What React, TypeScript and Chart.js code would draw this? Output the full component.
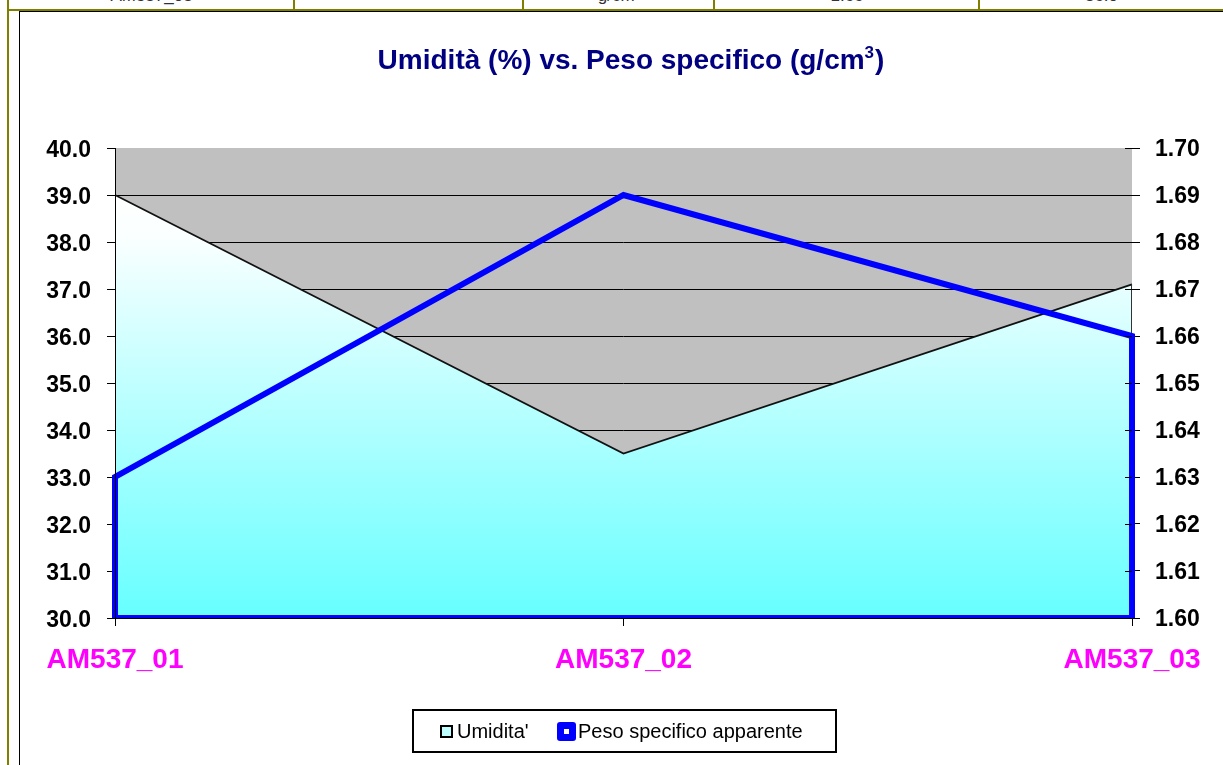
import React, { useEffect, useRef } from "react";
import { Chart, registerables } from "chart.js";

Chart.register(...registerables);

// ---- data ----
const categories = ["AM537_01", "AM537_02", "AM537_03"];
const umiditaValues = [39.0, 33.5, 37.1];
const pesoValues = [1.63, 1.69, 1.66];
const umiditaAxis = { min: 30, max: 40, step: 1, decimals: 1 };
const pesoAxis = { min: 1.6, max: 1.7, step: 0.01, decimals: 2 };
const titleMain = "Umidità (%) vs. Peso specifico (g/cm";
const titleSup = "3";
const titleEnd = ")";
const seriesNames = ["Umidita'", "Peso specifico apparente"];
const tableCells = ["AM537_03", "", "g/cm³", "1.66", "36.0"];

const FONT = '"Liberation Sans", Arial, Helvetica, sans-serif';
const OLIVE = "#808000";

// closed outline of the "Peso" area series, built from the values
const pesoOutline = [
  { x: categories[0], y: pesoAxis.min },
  ...pesoValues.map((v, i) => ({ x: categories[i], y: v })),
  { x: categories[categories.length - 1], y: pesoAxis.min },
  { x: categories[0], y: pesoAxis.min },
];

const decorPlugin = {
  id: "decor",
  beforeDraw(chart: any) {
    const { ctx, chartArea: a } = chart;
    ctx.save();
    ctx.fillStyle = "#C0C0C0";
    ctx.fillRect(a.left, a.top, a.right - a.left, a.bottom - a.top);
    ctx.restore();
  },
  afterDatasetDraw(chart: any, args: any) {
    if (args.index !== 0) return;
    const { ctx, chartArea: a, scales } = chart;
    const last = umiditaValues.length - 1;
    const xr = Math.round(scales.x.getPixelForValue(last)) - 0.5;
    ctx.save();
    ctx.strokeStyle = "#333333";
    ctx.lineWidth = 1;
    ctx.beginPath();
    ctx.moveTo(xr, scales.y.getPixelForValue(umiditaValues[last]));
    ctx.lineTo(xr, a.bottom);
    ctx.stroke();
    ctx.restore();
  },
  afterDatasetsDraw(chart: any) {
    const { ctx, chartArea: a, scales } = chart;
    ctx.save();
    ctx.strokeStyle = "#000";
    ctx.lineWidth = 1;
    const l = Math.round(a.left) + 0.5;
    const b = Math.round(a.bottom) + 0.5;
    ctx.beginPath();
    ctx.moveTo(l, a.top);
    ctx.lineTo(l, b);
    ctx.lineTo(a.right, b);
    ctx.stroke();
    // right-axis tick marks crossing into the plot
    const y1 = scales.y1;
    ctx.beginPath();
    for (const t of y1.ticks) {
      const py = Math.round(y1.getPixelForValue(t.value)) + 0.5;
      ctx.moveTo(a.right - 7, py);
      ctx.lineTo(a.right, py);
    }
    ctx.stroke();
    ctx.restore();
  },
  afterDraw(chart: any) {
    const { ctx } = chart;
    ctx.save();
    // title
    const mainFont = `bold 28px ${FONT}`;
    const supFont = `bold 17px ${FONT}`;
    ctx.font = mainFont;
    const w1 = ctx.measureText(titleMain).width;
    const w3 = ctx.measureText(titleEnd).width;
    ctx.font = supFont;
    const w2 = ctx.measureText(titleSup).width;
    const total = w1 + w2 + 1 + w3;
    let tx = 611 - total / 2;
    const ty = 57;
    ctx.fillStyle = "#000080";
    ctx.textBaseline = "alphabetic";
    ctx.textAlign = "left";
    ctx.font = mainFont;
    ctx.fillText(titleMain, tx, ty);
    tx += w1;
    ctx.font = supFont;
    ctx.fillText(titleSup, tx, ty - 11);
    tx += w2 + 1;
    ctx.font = mainFont;
    ctx.fillText(titleEnd, tx, ty);

    // legend
    ctx.fillStyle = "#fff";
    ctx.fillRect(392, 697, 425, 44);
    ctx.strokeStyle = "#000";
    ctx.lineWidth = 2;
    ctx.strokeRect(393, 698, 423, 42);
    // marker 1
    ctx.fillStyle = "#C0FFFF";
    ctx.fillRect(421, 714, 11, 11);
    ctx.lineWidth = 2;
    ctx.strokeStyle = "#000";
    ctx.strokeRect(421, 714, 11, 11);
    // marker 2
    ctx.fillStyle = "#0000FF";
    ctx.beginPath();
    (ctx as any).roundRect(537, 710, 19, 19, 3);
    ctx.fill();
    ctx.fillStyle = "#fff";
    ctx.fillRect(544, 717, 5, 5);
    ctx.fillStyle = "#000";
    ctx.font = `20px ${FONT}`;
    ctx.fillText(seriesNames[0], 437, 726);
    ctx.fillText(seriesNames[1], 558, 726);
    ctx.restore();
  },
};

export default function App() {
  const ref = useRef<HTMLCanvasElement | null>(null);

  useEffect(() => {
    if (!ref.current) return;
    const chart = new Chart(ref.current, {
      type: "line",
      data: {
        labels: categories,
        datasets: [
          {
            label: seriesNames[0],
            data: umiditaValues,
            yAxisID: "y",
            order: 1,
            borderColor: "#111111",
            borderWidth: 1.8,
            pointRadius: 0,
            tension: 0,
            fill: "start",
            backgroundColor: (c: any) => {
              const ch = c.chart;
              const a = ch.chartArea;
              if (!a) return "#B0FFFF";
              const top = ch.scales.y.getPixelForValue(Math.max(...umiditaValues));
              const g = ch.ctx.createLinearGradient(0, top, 0, a.bottom);
              g.addColorStop(0, "#FFFFFF");
              g.addColorStop(0.1, "#FAFFFF");
              g.addColorStop(1, "#66FFFF");
              return g;
            },
          } as any,
          {
            label: seriesNames[1],
            data: pesoOutline as any,
            yAxisID: "y1",
            order: 0,
            borderColor: "#0000FF",
            borderWidth: 6,
            borderJoinStyle: "miter",
            borderCapStyle: "square",
            pointRadius: 0,
            tension: 0,
            fill: false,
          } as any,
        ],
      },
      options: {
        animation: false,
        responsive: false,
        events: [],
        layout: { padding: { top: 136, left: 0, right: 0, bottom: 0 } },
        plugins: {
          legend: { display: false },
          title: { display: false },
          tooltip: { enabled: false },
        },
        scales: {
          x: {
            type: "category",
            offset: false,
            border: { display: false },
            grid: {
              drawOnChartArea: false,
              drawTicks: true,
              tickLength: 8,
              color: "#000",
              tickColor: "#000",
            },
            ticks: {
              color: "#FF00FF",
              font: { family: FONT, size: 28, weight: "bold" },
              padding: 17,
              maxRotation: 0,
              autoSkip: false,
            },
            afterFit: (s: any) => {
              s.height = 147;
            },
          },
          y: {
            position: "left",
            min: umiditaAxis.min,
            max: umiditaAxis.max,
            border: { display: false },
            grid: {
              color: (c: any) =>
                c.tick && Math.abs(c.tick.value - umiditaAxis.max) < 1e-9 ? "rgba(0,0,0,0)" : "#000",
              tickColor: "#000",
              tickLength: 8,
              lineWidth: 1,
            },
            ticks: {
              stepSize: umiditaAxis.step,
              color: "#000",
              font: { family: FONT, size: 23, weight: "bold" },
              padding: 16,
              labelOffset: 3,
              callback: (v: any) => Number(v).toFixed(umiditaAxis.decimals),
            },
            afterFit: (s: any) => {
              s.width = 95;
            },
          },
          y1: {
            position: "right",
            min: pesoAxis.min,
            max: pesoAxis.max,
            border: { display: false },
            grid: {
              drawOnChartArea: false,
              tickColor: "#000",
              tickLength: 8,
            },
            ticks: {
              stepSize: pesoAxis.step,
              color: "#000",
              font: { family: FONT, size: 23, weight: "bold" },
              padding: 15,
              labelOffset: 2,
              callback: (v: any) => Number(v).toFixed(pesoAxis.decimals),
            },
            afterFit: (s: any) => {
              s.width = 91;
            },
          },
        },
      } as any,
      plugins: [decorPlugin as any],
    });
    return () => chart.destroy();
  }, []);

  const cellEdges = [8, 294, 523, 714, 979, 1223];

  return (
    <div
      style={{
        position: "fixed",
        left: 0,
        top: 0,
        width: 1223,
        height: 765,
        background: "#fff",
        overflow: "hidden",
        fontFamily: FONT,
      }}
    >
      {/* table row fragment */}
      {tableCells.map((t, i) => (
        <div
          key={i}
          style={{
            position: "absolute",
            left: cellEdges[i] + 1,
            top: 0,
            width: cellEdges[i + 1] - cellEdges[i] - 1,
            height: 9,
            overflow: "hidden",
          }}
        >
          <span
            style={{
              position: "absolute",
              left: 0,
              right: 0,
              top: -13,
              textAlign: "center",
              fontSize: 17,
              lineHeight: "18px",
              color: "#333",
              whiteSpace: "nowrap",
            }}
          >
            {t}
          </span>
        </div>
      ))}
      {cellEdges.slice(1, 5).map((x, i) => (
        <div
          key={"sep" + i}
          style={{ position: "absolute", left: x - 1, top: 0, width: 2, height: 10, background: OLIVE }}
        />
      ))}
      <div style={{ position: "absolute", left: 7, top: 9, width: 1216, height: 2, background: OLIVE }} />
      <div style={{ position: "absolute", left: 7, top: 0, width: 2, height: 765, background: OLIVE }} />
      {/* chart frame */}
      <div
        style={{
          position: "absolute",
          left: 19,
          top: 11,
          width: 1210,
          height: 760,
          borderLeft: "1px solid #000",
          borderTop: "1px solid #000",
        }}
      />
      <canvas
        ref={ref}
        width={1203}
        height={753}
        style={{ position: "absolute", left: 20, top: 12, width: 1203, height: 753 }}
      />
    </div>
  );
}
